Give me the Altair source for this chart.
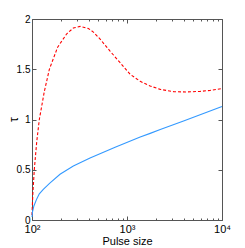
import altair as alt
import pandas as pd

# red dashed series
red_x = [100, 101.9, 105.7, 112.2, 119.4, 134.9, 152.4, 186.2, 232.3, 272.3, 320.6,
         392.6, 442.6, 521.2, 663.7, 847.2, 1079, 1377, 1754, 2239, 3090, 4266,
         5902, 7516, 10000]
red_y = [0.05, 0.25, 0.50, 0.78, 1.00, 1.28, 1.50, 1.72, 1.853, 1.91, 1.926,
         1.905, 1.87, 1.80, 1.68, 1.565, 1.45, 1.38, 1.333, 1.30, 1.277, 1.274,
         1.28, 1.29, 1.307]

# blue solid series
blue_x = [100, 101.2, 104.7, 112.2, 119.4, 131.5, 153.0, 197.2, 272.3, 408.3, 750,
          1377, 1754, 2239, 3936, 10000]
blue_y = [0.03, 0.08, 0.14, 0.21, 0.26, 0.305, 0.365, 0.455, 0.538, 0.618, 0.725,
          0.825, 0.862, 0.90, 0.985, 1.13]

x_major = [100, 1000, 10000]
x_minor = [200, 300, 400, 500, 600, 700, 800, 900,
           2000, 3000, 4000, 5000, 6000, 7000, 8000, 9000]
y_ticks = [0, 0.5, 1, 1.5, 2]

red = pd.DataFrame({"x": red_x, "y": red_y})
blue = pd.DataFrame({"x": blue_x, "y": blue_y})

FRAME = "#555555"
xs = alt.Scale(type="log", domain=[100, 10000], nice=False)
ys = alt.Scale(domain=[0, 2], nice=False, zero=False)

def tick_axis(orient, values, size):
    return alt.Axis(orient=orient, values=values, offset=-size, tickSize=size,
                    labels=False, domain=False, grid=False, title=None,
                    tickColor=FRAME, tickWidth=1)

label_x = alt.Axis(orient="bottom", values=x_major, ticks=False, domain=False, grid=False,
                   labelExpr="datum.value == 100 ? '10²' : datum.value == 1000 ? '10³' : '10⁴'",
                   labelPadding=3, labelFontSize=11, title="Pulse size", titleFontSize=11,
                   titleFontWeight="normal", titlePadding=1, labelFlush=False)
label_y = alt.Axis(orient="left", values=y_ticks, ticks=False, domain=False, grid=False,
                   format="~g", labelPadding=2, labelFontSize=10, title="τ", titleFontSize=12,
                   titleFontWeight="normal", titleX=-19, titleY=100, titleAngle=270,
                   titleAlign="center", titleBaseline="middle", labelFlush=False)

l_red = alt.Chart(red).mark_line(color="#ff0000", strokeDash=[3, 2], strokeWidth=1.1).encode(
    x=alt.X("x:Q", scale=xs, axis=label_x),
    y=alt.Y("y:Q", scale=ys, axis=label_y),
)
l_blue = alt.Chart(blue).mark_line(color="#3399ff", strokeWidth=1.1).encode(
    x=alt.X("x:Q", scale=xs, axis=tick_axis("bottom", x_major, 4)),
    y=alt.Y("y:Q", scale=ys, axis=tick_axis("left", y_ticks, 4)),
)
d1 = alt.Chart(blue).mark_line(opacity=0).encode(
    x=alt.X("x:Q", scale=xs, axis=tick_axis("top", x_major, 4)),
    y=alt.Y("y:Q", scale=ys, axis=tick_axis("right", y_ticks, 4)),
)
d2 = alt.Chart(blue).mark_line(opacity=0).encode(
    x=alt.X("x:Q", scale=xs, axis=tick_axis("bottom", x_minor, 2)),
    y=alt.Y("y:Q", scale=ys, axis=None),
)
d3 = alt.Chart(blue).mark_line(opacity=0).encode(
    x=alt.X("x:Q", scale=xs, axis=tick_axis("top", x_minor, 2)),
    y=alt.Y("y:Q", scale=ys, axis=None),
)

chart = alt.layer(l_red, l_blue, d1, d2, d3).resolve_axis(
    x="independent", y="independent"
).properties(
    width=190, height=201,
    autosize=alt.AutoSizeParams(type="none"),
    padding={"left": 24, "top": 11, "right": 15, "bottom": 28},
).configure_view(
    stroke=FRAME, strokeWidth=1
).configure_axis(
    labelFont="Liberation Sans", titleFont="Liberation Sans", labelColor="#000000", titleColor="#000000"
)

chart.save("out.html", embed_options={"renderer": "svg", "actions": False})
